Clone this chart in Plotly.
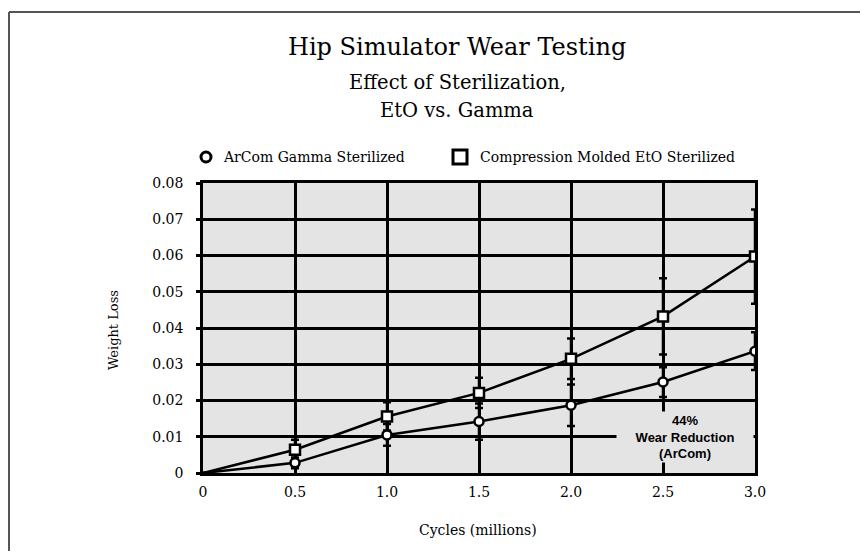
import plotly.graph_objects as go

# ---- data ----
cycles = [0, 0.5, 1.0, 1.5, 2.0, 2.5, 3.0]
gamma = [0, 0.0028, 0.0105, 0.0142, 0.0187, 0.0251, 0.0336]
gamma_err = [0, 0.0015, 0.0030, 0.0050, 0.0057, 0.0041, 0.0052]
eto = [0, 0.0064, 0.0156, 0.0221, 0.0315, 0.0432, 0.0597]
eto_err = [0, 0.0028, 0.0039, 0.0042, 0.0056, 0.0105, 0.0130]

x_ticks = [0, 0.5, 1.0, 1.5, 2.0, 2.5, 3.0]
x_ticktext = ["0", "0.5", "1.0", "1.5", "2.0", "2.5", "3.0"]
y_ticks = [0, 0.01, 0.02, 0.03, 0.04, 0.05, 0.06, 0.07, 0.08]
y_ticktext = ["0", "0.01", "0.02", "0.03", "0.04", "0.05", "0.06", "0.07", "0.08"]

name_gamma = "ArCom Gamma Sterilized"
name_eto = "Compression Molded EtO Sterilized"

SERIF = "DejaVu Serif"
BG = "#e4e4e4"
OFF = 8                      # default page body margin
W, H = 868 - 2 * OFF, 559 - 2 * OFF
# plot area in screen pixels: x 203..755, y 183..473
ML = 203 - OFF
MR = W - (755 - OFF)
MT = 183 - OFF
MB = H - (473 - OFF)

fig = go.Figure()

err_style = dict(type="data", thickness=2.5, width=4, color="black")
sq_sizes = [0 if v == 0 else 10 for v in eto]
ci_sizes = [0 if v == 0 else 9 for v in gamma]

fig.add_trace(go.Scatter(
    x=cycles, y=eto, mode="lines+markers", name=name_eto, showlegend=False,
    line=dict(color="black", width=2.5),
    marker=dict(symbol="square", size=sq_sizes, color="white", opacity=1,
                line=dict(color="black", width=2.5)),
    error_y=dict(array=eto_err, **err_style),
))
fig.add_trace(go.Scatter(
    x=cycles, y=gamma, mode="lines+markers", name=name_gamma, showlegend=False,
    line=dict(color="black", width=2.5),
    marker=dict(symbol="circle", size=ci_sizes, color="white", opacity=1,
                line=dict(color="black", width=2.5)),
    error_y=dict(array=gamma_err, **err_style),
))

pw = W - ML - MR
ph = H - MT - MB

def px(xs):
    return (xs - OFF - ML) / pw

def py(ys):
    return (H - MB - (ys - OFF)) / ph

annotations = [
    dict(text="Hip Simulator Wear Testing", x=px(457), y=py(47), xref="paper", yref="paper",
         showarrow=False, font=dict(family=SERIF, size=24, color="black"), xanchor="center", yanchor="middle"),
    dict(text="Effect of Sterilization,", x=px(457), y=py(82), xref="paper", yref="paper",
         showarrow=False, font=dict(family=SERIF, size=19.5, color="black"), xanchor="center", yanchor="middle"),
    dict(text="EtO vs. Gamma", x=px(457), y=py(110), xref="paper", yref="paper",
         showarrow=False, font=dict(family=SERIF, size=19.5, color="black"), xanchor="center", yanchor="middle"),
    dict(text="Weight Loss", x=px(113), y=py(330), xref="paper", yref="paper", textangle=-90,
         showarrow=False, font=dict(family=SERIF, size=13, color="black"), xanchor="center", yanchor="middle"),
    dict(text="Cycles (millions)", x=px(478), y=py(530), xref="paper", yref="paper",
         showarrow=False, font=dict(family=SERIF, size=14, color="black"), xanchor="center", yanchor="middle"),
    dict(text="<b>44%<br>Wear Reduction<br>(ArCom)</b>", x=2.62, y=0.0100, xref="x", yref="y",
         showarrow=False, font=dict(family="Liberation Sans", size=13, color="black"),
         bgcolor=BG, width=134, height=48, xanchor="center", yanchor="middle"),
    # legend texts
    dict(text=name_gamma, x=px(221), y=py(157), xref="paper", yref="paper",
         showarrow=False, font=dict(family=SERIF, size=14, color="black"), xanchor="left", yanchor="middle"),
    dict(text=name_eto, x=px(478), y=py(157), xref="paper", yref="paper",
         showarrow=False, font=dict(family=SERIF, size=14, color="black"), xanchor="left", yanchor="middle"),
]

shapes = [
    dict(type="line", xref="paper", yref="paper", x0=px(9), y0=py(OFF + H), x1=px(9), y1=py(12),
         line=dict(color="#555555", width=2)),
    dict(type="line", xref="paper", yref="paper", x0=px(9), y0=py(12), x1=px(OFF + W), y1=py(12),
         line=dict(color="#555555", width=2)),
    # legend glyphs
    dict(type="circle", xref="paper", yref="paper", xsizemode="pixel", ysizemode="pixel",
         xanchor=px(206), yanchor=py(157), x0=-5, x1=5, y0=-5, y1=5,
         fillcolor="white", line=dict(color="black", width=3)),
    dict(type="rect", xref="paper", yref="paper", xsizemode="pixel", ysizemode="pixel",
         xanchor=px(460), yanchor=py(157), x0=-7, x1=7, y0=-7, y1=7,
         fillcolor="white", line=dict(color="black", width=3)),
]

fig.update_layout(
    width=W, height=H,
    margin=dict(l=ML, r=MR, t=MT, b=MB, pad=0, autoexpand=False),
    paper_bgcolor="white", plot_bgcolor=BG,
    font=dict(family=SERIF, size=14, color="black"),
    showlegend=False,
    annotations=annotations,
    shapes=shapes,
)
fig.update_xaxes(range=[0, 3], tickvals=x_ticks, ticktext=x_ticktext, showgrid=True,
                 gridcolor="black", gridwidth=2.5, showline=True, linecolor="black", linewidth=2.5,
                 mirror=True, zeroline=False, ticks="", tickfont=dict(family=SERIF, size=14),
                 ticklabelstandoff=4)
fig.update_yaxes(range=[0, 0.08], tickvals=y_ticks, ticktext=y_ticktext, showgrid=True,
                 gridcolor="black", gridwidth=2.5, showline=True, linecolor="black", linewidth=2.5,
                 mirror=True, zeroline=False, ticks="outside", ticklen=4, tickwidth=2.5, tickcolor="black",
                 tickfont=dict(family=SERIF, size=14), ticklabelstandoff=10)

fig.write_html("out.html", config={"displayModeBar": False})
